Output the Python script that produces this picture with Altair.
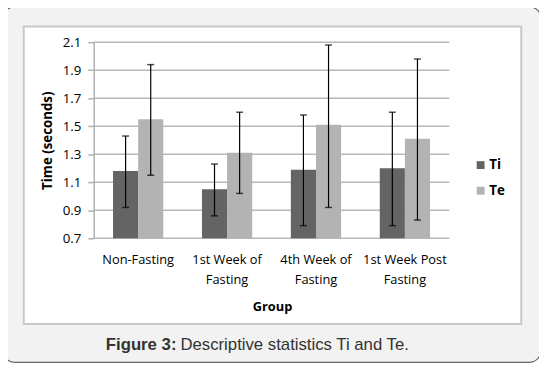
import altair as alt
import pandas as pd

groups = ["Non-Fasting", "1st Week of Fasting", "4th Week of Fasting", "1st Week Post Fasting"]
group_labels = ["Non-Fasting", "1st Week of\nFasting", "4th Week of\nFasting", "1st Week Post\nFasting"]
series = ["Ti", "Te"]
ti_mean = [1.18, 1.05, 1.19, 1.20]
ti_low = [0.92, 0.86, 0.79, 0.79]
ti_high = [1.43, 1.23, 1.58, 1.60]
te_mean = [1.55, 1.31, 1.51, 1.41]
te_low = [1.15, 1.02, 0.92, 0.83]
te_high = [1.94, 1.60, 2.08, 1.98]
y_ticks = [0.7, 0.9, 1.1, 1.3, 1.5, 1.7, 1.9, 2.1]
colors = ["#646464", "#b3b3b3"]

rows = []
for i, g in enumerate(groups):
    rows.append({"group": g, "series": "Ti", "mean": ti_mean[i], "low": ti_low[i], "high": ti_high[i]})
    rows.append({"group": g, "series": "Te", "mean": te_mean[i], "low": te_low[i], "high": te_high[i]})
df = pd.DataFrame(rows)
lab_df = pd.DataFrame({"group": groups, "label": group_labels})
grid_rows = [{"v": v} for v in y_ticks]

W, H = 361, 199
FONT = "Open Sans"

xscale = alt.Scale(domain=groups, paddingInner=0.435, paddingOuter=0.2175)
yscale = alt.Scale(domain=[0.7, 2.1], nice=False, zero=False)
xoff = alt.XOffset("series:N", scale=alt.Scale(domain=series, paddingInner=0, paddingOuter=0))

one = alt.Data(values=[{"a": 1}])

outer = alt.Chart(one).mark_rect(fill="#f2f2f2", stroke="#666666", strokeWidth=1.2, cornerRadius=12).encode(
    x=alt.value(-92), x2=alt.value(454), y=alt.value(-36), y2=alt.value(325))
inner = alt.Chart(one).mark_rect(fill="white", stroke="#c8c8c8", strokeWidth=2).encode(
    x=alt.value(-71), x2=alt.value(434), y=alt.value(-16), y2=alt.value(286))

yaxis = alt.Axis(
    values=y_ticks, tickCount=8, format=".1f", grid=False, title="Time (seconds)", labelOverlap=False,
    domainColor="#b0b0b0", domainWidth=1.5, tickColor="#b0b0b0", tickWidth=1.5, tickSize=6,
    labelPadding=7, labelFont=FONT, labelFontSize=13.5, labelColor="#000000",
    titleFont=FONT, titleFontSize=13.5, titleFontWeight="bold", titleColor="#000000",
    titlePadding=8, zindex=1)

grid = alt.Chart(alt.Data(values=grid_rows)).mark_rule(color="#b8b8b8", strokeWidth=1.5).encode(
    y=alt.Y("v:Q", scale=yscale, axis=yaxis),
    x=alt.value(0), x2=alt.value(W))

bars = alt.Chart(df).mark_bar().encode(
    x=alt.X("group:N", scale=xscale, axis=None),
    xOffset=xoff,
    y=alt.Y("mean:Q", scale=yscale, axis=yaxis),
    y2=alt.datum(0.7),
    color=alt.Color("series:N", scale=alt.Scale(domain=series, range=colors),
                    legend=alt.Legend(title=None, orient="none", legendX=386, legendY=118,
                                      symbolType="square", symbolSize=64, symbolStrokeWidth=0,
                                      labelFont=FONT, labelFontSize=13.5, labelFontWeight="bold",
                                      labelColor="#000000", rowPadding=11, labelOffset=2)),
)

err = alt.Chart(df).mark_rule(color="#000000", strokeWidth=1.2).encode(
    x=alt.X("group:N", scale=xscale), xOffset=xoff,
    y=alt.Y("low:Q", scale=yscale, axis=yaxis), y2="high:Q")
cap_lo = alt.Chart(df).mark_tick(color="#000000", thickness=1.5, size=7).encode(
    x=alt.X("group:N", scale=xscale), xOffset=xoff, y=alt.Y("low:Q", scale=yscale, axis=yaxis))
cap_hi = alt.Chart(df).mark_tick(color="#000000", thickness=1.5, size=7).encode(
    x=alt.X("group:N", scale=xscale), xOffset=xoff, y=alt.Y("high:Q", scale=yscale, axis=yaxis))

labels = alt.Chart(lab_df).mark_text(font=FONT, fontSize=13, baseline="top", align="center",
                                     lineBreak="\n", lineHeight=20, color="#000000").encode(
    x=alt.X("group:N", scale=xscale), text="label:N", y=alt.value(215))

xtitle = alt.Chart(one).mark_text(text="Group", font=FONT, fontSize=13, fontWeight="bold",
                                  color="#000000", baseline="middle").encode(
    x=alt.value(W / 2 + 1), y=alt.value(269))

cap_b = alt.Chart(one).mark_text(text="Figure 3:", font="Liberation Sans", fontSize=17, fontWeight="bold",
                                 color="#333333", align="right", baseline="middle").encode(
    x=alt.value(84), y=alt.value(307))
cap_r = alt.Chart(one).mark_text(text="Descriptive statistics Ti and Te.", font="Liberation Sans", fontSize=17,
                                 color="#333333", align="left", baseline="middle").encode(
    x=alt.value(88), y=alt.value(307))

chart = alt.layer(outer, inner, grid, bars, err, cap_lo, cap_hi, labels, xtitle, cap_b, cap_r).properties(
    width=W, height=H,
    padding={"left": 87, "top": 32, "right": 91, "bottom": 130},
    autosize=alt.AutoSizeParams(type="none"),
).configure_view(stroke=None).configure(background="white")

chart.save("out.html", embed_options={"renderer": "svg", "actions": False})
